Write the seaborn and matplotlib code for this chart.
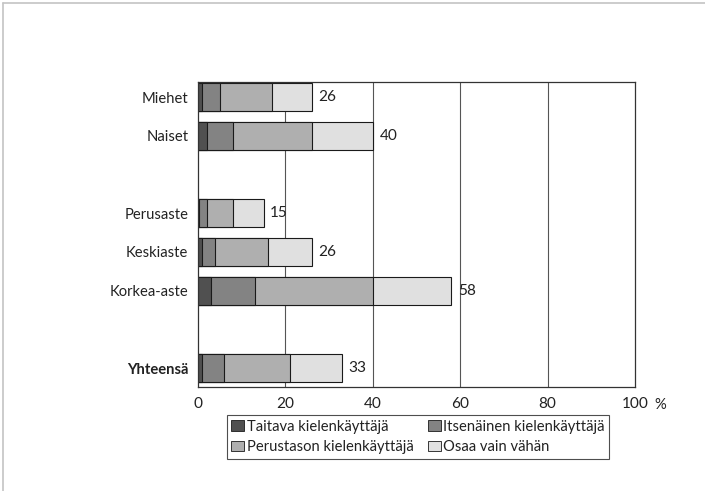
import numpy as np
import pandas as pd
import matplotlib
matplotlib.use("Agg")
import matplotlib.pyplot as plt
from matplotlib.lines import Line2D
from matplotlib.patches import Patch
import seaborn as sns

# Data (% of respondents)
groups = ["Miehet", "Naiset", "Perusaste", "Keskiaste", "Korkea-aste", "Yhteensä"]
taitava = [1, 2, 0.3, 1, 3, 1]
itsenainen = [4, 6, 1.7, 3, 10, 5]
perustaso = [12, 18, 6, 12, 27, 15]
osaa_vahan = [9, 14, 7, 10, 18, 12]
totals = [26, 40, 15, 26, 58, 33]

series_names = ["Taitava kielenkäyttäjä", "Itsenäinen kielenkäyttäjä",
                "Perustason kielenkäyttäjä", "Osaa vain vähän"]
series_colors = ["#505050", "#838383", "#afafaf", "#e0e0e0"]
x_ticks = [0, 20, 40, 60, 80, 100]

# blank slots give the gaps between the groups
order = ["Miehet", "Naiset", " ", "Perusaste", "Keskiaste", "Korkea-aste", "  ", "Yhteensä"]

sns.set_theme(style="white")
plt.rcParams["font.family"] = ["Lato", "DejaVu Sans"]
FS = 10.6
TXT = "#222222"

df = pd.DataFrame({"group": groups, "s1": taitava, "s2": itsenainen,
                   "s3": perustaso, "s4": osaa_vahan})
cols = ["s1", "s2", "s3", "s4"]
cum = df[cols].cumsum(axis=1)
cum["group"] = df["group"]

fig = plt.figure(figsize=(7.05, 4.91), dpi=100)
ax = fig.add_axes([198 / 705, 1 - 387 / 491, 437 / 705, 305 / 491])

# draw cumulative bars from the longest back to the shortest
for col, color in reversed(list(zip(cols, series_colors))):
    sns.barplot(data=cum, x=col, y="group", order=order, orient="h",
                color=color, width=0.72, edgecolor="#1a1a1a", linewidth=0.8,
                saturation=1, ax=ax)

for g, t in zip(groups, totals):
    ax.text(t + 1.5, order.index(g), f"{t:g}", va="center", ha="left",
            fontsize=FS + 0.5, color=TXT)

ax.set_xlim(0, 100)
ax.set_ylim(7.49, -0.39)
ax.set_xticks(x_ticks)
ax.set_xticklabels([str(v) for v in x_ticks], fontsize=FS + 0.5, color=TXT)
ax.set_yticks(range(len(order)))
ax.set_yticklabels(order, fontsize=FS, color=TXT)
for lbl in ax.get_yticklabels():
    if lbl.get_text() == "Yhteensä":
        lbl.set_fontweight("bold")
ax.set_xlabel("")
ax.set_ylabel("")
ax.tick_params(axis="y", length=0, pad=7)
ax.tick_params(axis="x", direction="in", length=3, width=0.8, color="#333333", pad=7)

for v in x_ticks[1:-1]:
    ax.axvline(v, color="#555555", linewidth=0.8, zorder=0)
for s in ax.spines.values():
    s.set_visible(True)
    s.set_color("#333333")
    s.set_linewidth(0.9)

fig.text(660 / 705, 1 - 405 / 491, "%", fontsize=FS, color=TXT,
         ha="center", va="center")

# column-wise fill, so order handles to read row by row like the original
handles = [Patch(facecolor=c, edgecolor="#1a1a1a", linewidth=0.6) for c in series_colors]
idx = [0, 2, 1, 3]
leg = fig.legend([handles[i] for i in idx], [series_names[i] for i in idx],
                 loc="upper center", ncol=2,
                 bbox_to_anchor=(418 / 705, 1 - 408 / 491), bbox_transform=fig.transFigure,
                 fontsize=FS, frameon=True, fancybox=False, edgecolor=TXT,
                 handlelength=0.9, handleheight=0.7, handletextpad=0.15,
                 columnspacing=1.0, borderpad=0.3, labelspacing=0.45)
leg.get_frame().set_linewidth(0.8)
for t in leg.get_texts():
    t.set_color(TXT)

# light page frame on the left and top edges
fig.add_artist(Line2D([0.0045, 0.0045], [0, 0.994], transform=fig.transFigure,
                      color="#c4c4c4", linewidth=1.2))
fig.add_artist(Line2D([0.0045, 1], [0.994, 0.994], transform=fig.transFigure,
                      color="#c4c4c4", linewidth=1.2))

fig.savefig("out.png", dpi=100)
